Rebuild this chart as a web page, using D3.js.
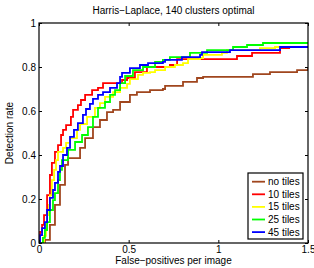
<!DOCTYPE html>
<html lang="en">
<head>
<meta charset="UTF-8">
<title>Harris-Laplace</title>
<script src="https://d3js.org/d3.v7.min.js"></script>
<style>
  body { margin: 0; background: #fff; }
  text { font-family: "Liberation Sans", Arial, sans-serif; fill: #000; }
</style>
</head>
<body>
<script>
// ROC points: [false-positives per image, detection rate]
const noTiles = [[0,0],[0.033,0.014],[0.061,0.082],[0.089,0.173],[0.117,0.264],[0.145,0.355],[0.162,0.386],[0.217,0.386],[0.229,0.432],[0.257,0.477],[0.301,0.527],[0.34,0.559],[0.379,0.595],[0.413,0.605],[0.452,0.641],[0.507,0.673],[0.546,0.686],[0.619,0.695],[0.691,0.7],[0.703,0.714],[0.786,0.714],[0.803,0.732],[0.881,0.75],[0.915,0.755],[1.138,0.755],[1.193,0.768],[1.288,0.777],[1.439,0.786],[1.5,0.795]];
const tiles10 = [[0,0],[0.006,0.05],[0.017,0.082],[0.028,0.127],[0.045,0.218],[0.061,0.309],[0.072,0.364],[0.089,0.414],[0.106,0.445],[0.123,0.491],[0.134,0.514],[0.151,0.536],[0.178,0.573],[0.19,0.605],[0.217,0.627],[0.234,0.65],[0.257,0.673],[0.296,0.695],[0.329,0.705],[0.357,0.727],[0.463,0.741],[0.491,0.75],[0.535,0.777],[0.602,0.8],[0.73,0.809],[0.77,0.836],[1.104,0.85],[1.188,0.864],[1.344,0.886],[1.4,0.886]];
const tiles15 = [[0.022,0],[0.028,0.032],[0.039,0.082],[0.045,0.127],[0.056,0.173],[0.061,0.218],[0.072,0.286],[0.084,0.332],[0.095,0.377],[0.106,0.414],[0.134,0.432],[0.151,0.455],[0.173,0.477],[0.212,0.514],[0.229,0.541],[0.268,0.573],[0.312,0.614],[0.34,0.636],[0.368,0.664],[0.413,0.686],[0.452,0.705],[0.491,0.723],[0.507,0.745],[0.552,0.764],[0.58,0.773],[0.619,0.777],[0.647,0.786],[0.703,0.8],[0.758,0.809],[0.803,0.818],[0.831,0.836],[0.898,0.841],[0.915,0.855],[1.02,0.864],[1.048,0.877],[1.232,0.886],[1.316,0.891],[1.455,0.891]];
const tiles25 = [[0.006,0],[0.022,0.023],[0.033,0.059],[0.045,0.095],[0.061,0.15],[0.078,0.195],[0.089,0.227],[0.106,0.286],[0.117,0.332],[0.128,0.377],[0.162,0.423],[0.201,0.459],[0.24,0.491],[0.273,0.527],[0.301,0.573],[0.329,0.614],[0.368,0.641],[0.396,0.673],[0.424,0.695],[0.452,0.727],[0.48,0.759],[0.524,0.786],[0.58,0.8],[0.647,0.823],[0.691,0.832],[0.73,0.845],[0.842,0.864],[0.937,0.877],[1.082,0.891],[1.16,0.9],[1.249,0.909],[1.5,0.914]];
const tiles45 = [[0,0],[0.006,0.036],[0.017,0.068],[0.033,0.095],[0.045,0.15],[0.061,0.205],[0.078,0.241],[0.089,0.273],[0.106,0.323],[0.117,0.35],[0.134,0.4],[0.156,0.432],[0.173,0.482],[0.195,0.514],[0.217,0.545],[0.245,0.582],[0.262,0.609],[0.284,0.632],[0.301,0.655],[0.329,0.673],[0.357,0.686],[0.396,0.705],[0.435,0.727],[0.452,0.755],[0.463,0.773],[0.507,0.795],[0.563,0.809],[0.608,0.818],[0.691,0.823],[0.703,0.832],[0.797,0.845],[0.898,0.855],[0.909,0.868],[1.065,0.877],[1.327,0.877],[1.344,0.891],[1.5,0.895]];

const seriesNames = ['no tiles', '10 tiles', '15 tiles', '25 tiles', '45 tiles'];
const seriesData = [noTiles, tiles10, tiles15, tiles25, tiles45];
const seriesColors = ['#a0461e', '#ff0000', '#ffff00', '#00ff00', '#0000ff'];
const xTicks = [0, 0.5, 1, 1.5];
const yTicks = [0, 0.2, 0.4, 0.6, 0.8, 1];

const w = 314, h = 268;
const pL = 39, pR = 308, pT = 23, pB = 243;

const svg = d3.select('body').append('svg')
    .attr('width', w)
    .attr('height', h);

svg.append('rect').attr('width', w).attr('height', h).attr('fill', '#fff');

const x = d3.scaleLinear().domain([0, 1.5]).range([pL, pR]);
const y = d3.scaleLinear().domain([0, 1]).range([pB, pT]);

svg.append('defs').append('clipPath').attr('id', 'plot')
   .append('rect').attr('x', pL).attr('y', pT)
   .attr('width', pR - pL).attr('height', pB - pT);

// curves
const line = d3.line()
    .x(d => x(d[0]))
    .y(d => y(d[1]))
    .curve(d3.curveStepAfter);

svg.append('g').attr('clip-path', 'url(#plot)')
   .selectAll('path')
   .data(seriesData)
   .enter()
   .append('path')
   .attr('d', line)
   .attr('fill', 'none')
   .attr('stroke', (d, i) => seriesColors[i])
   .attr('stroke-width', 1.8);

// axes, ticks pointing inward
const fmt = d => d === 0 ? '0' : String(d);
const axisStyle = g => {
    g.select('.domain').remove();
    g.selectAll('line').attr('stroke', '#000');
    g.selectAll('text').style('font-size', '10px').attr('fill', '#000');
};

svg.append('g')
   .attr('transform', 'translate(0,' + pB + ')')
   .call(d3.axisBottom(x).tickValues(xTicks).tickFormat(fmt).tickSizeInner(-3).tickSizeOuter(0).tickPadding(3))
   .call(axisStyle);
svg.append('g')
   .attr('transform', 'translate(0,' + pT + ')')
   .call(d3.axisTop(x).tickValues(xTicks).tickFormat('').tickSizeInner(-3).tickSizeOuter(0))
   .call(axisStyle);
svg.append('g')
   .attr('transform', 'translate(' + pL + ',0)')
   .call(d3.axisLeft(y).tickValues(yTicks).tickFormat(fmt).tickSizeInner(-3).tickSizeOuter(0).tickPadding(3))
   .call(axisStyle);
svg.append('g')
   .attr('transform', 'translate(' + pR + ',0)')
   .call(d3.axisRight(y).tickValues(yTicks).tickFormat('').tickSizeInner(-3).tickSizeOuter(0))
   .call(axisStyle);

svg.append('rect')
   .attr('x', pL).attr('y', pT)
   .attr('width', pR - pL).attr('height', pB - pT)
   .attr('fill', 'none').attr('stroke', '#000').attr('stroke-width', 1.2);

// labels
svg.append('text')
   .attr('x', (pL + pR) / 2).attr('y', 14)
   .attr('text-anchor', 'middle').style('font-size', '10px')
   .text('Harris\u2212Laplace, 140 clusters optimal');
svg.append('text')
   .attr('x', (pL + pR) / 2).attr('y', 264)
   .attr('text-anchor', 'middle').style('font-size', '10px')
   .text('False\u2212positives per image');
svg.append('text')
   .attr('transform', 'translate(13,' + ((pT + pB) / 2) + ') rotate(-90)')
   .attr('text-anchor', 'middle').style('font-size', '10px')
   .text('Detection rate');

// legend
const legend = svg.append('g').attr('transform', 'translate(248,173)');
legend.append('rect')
   .attr('width', 55).attr('height', 66)
   .attr('fill', '#fff').attr('stroke', '#000').attr('stroke-width', 1.2);
const rows = legend.selectAll('g.row')
   .data(seriesNames)
   .enter()
   .append('g')
   .attr('class', 'row')
   .attr('transform', (d, i) => 'translate(0,' + (8.7 + i * 12.6) + ')');
rows.append('line')
   .attr('x1', 4).attr('x2', 17)
   .attr('stroke', (d, i) => seriesColors[i])
   .attr('stroke-width', 1.8);
rows.append('text')
   .attr('x', 20).attr('y', 3.5)
   .style('font-size', '10px')
   .text(d => d);
</script>
</body>
</html>
